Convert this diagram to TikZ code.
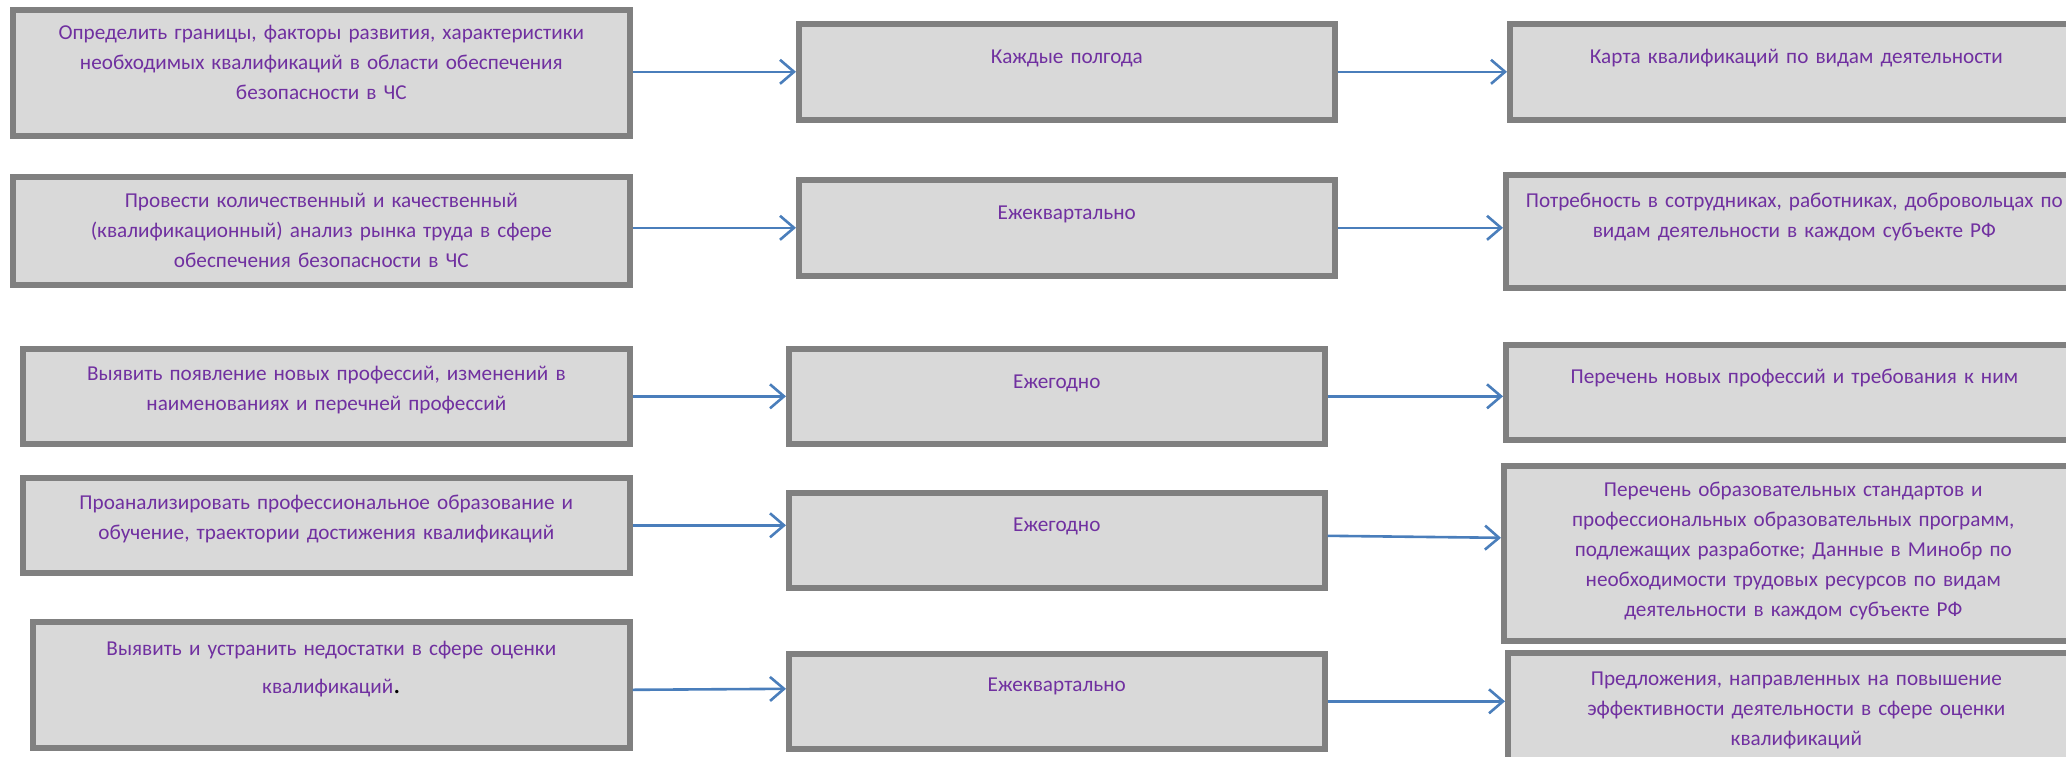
\documentclass[tikz,border=0pt]{standalone}
\usepackage{fontspec}
\setmainfont{Carlito}
\usepackage{xcolor}
\usetikzlibrary{arrows.meta}

\definecolor{boxgray}{HTML}{808080}
\definecolor{boxfill}{HTML}{D9D9D9}
\definecolor{txtpurple}{HTML}{7030A0}
\definecolor{linkblue}{HTML}{4A7EBB}

\begin{document}
\begin{tikzpicture}[
    x=0.5pt, y=-0.5pt,
    cell/.style={draw=boxgray, fill=boxfill, line width=2.8pt,
        anchor=north west, align=center, text=txtpurple,
        inner xsep=2pt, inner ysep=0pt,
        font=\fontsize{10.6pt}{15pt}\selectfont},
    link/.style={-{Straight Barb[length=7pt, width=12pt]}, line width=1.3pt, linkblue},
]

%--- Frame (right column runs past the edge) ---
\useasboundingbox (0,0) rectangle (2066,756);
\clip (0,0) rectangle (2066,756);

%--- Left column: tasks ---
\node[cell, minimum width=308.5pt, text width=290pt, text height=15pt, text depth=48pt]
    (task1) at (10,7)
    {Определить границы, факторы развития, характеристики\\
     необходимых квалификаций в области обеспечения\\
     безопасности в ЧС};
\node[cell, minimum width=308.5pt, text width=290pt, text height=15.5pt, text depth=38.5pt]
    (task2) at (10,174)
    {Провести количественный и качественный\\
     (квалификационный) анализ рынка труда в сфере\\
     обеспечения безопасности в ЧС};
\node[cell, minimum width=303.5pt, text width=290pt, text height=16pt, text depth=31.5pt]
    (task3) at (20,346)
    {Выявить появление новых профессий, изменений в\\
     наименованиях и перечней профессий};
\node[cell, minimum width=303.5pt, text width=290pt, text height=16pt, text depth=31.5pt]
    (task4) at (20,475)
    {Проанализировать профессиональное образование и\\
     обучение, траектории достижения квалификаций};
\node[cell, minimum width=298.5pt, text width=285pt, text height=17pt, text depth=46pt]
    (task5) at (30,619)
    {Выявить и устранить недостатки в сфере оценки\\[4pt]
     квалификаций{\color{black}\fontsize{14pt}{15pt}\selectfont .}};

%--- Middle column: frequency ---
\node[cell, minimum width=268pt, text width=250pt, text height=20pt, text depth=28pt]
    (freq1) at (796,21) {Каждые полгода};
\node[cell, minimum width=268pt, text width=250pt, text height=20pt, text depth=28pt]
    (freq2) at (796,177) {Ежеквартально};
\node[cell, minimum width=268pt, text width=250pt, text height=20pt, text depth=27.5pt]
    (freq3) at (786,346) {Ежегодно};
\node[cell, minimum width=268pt, text width=250pt, text height=19.5pt, text depth=28pt]
    (freq4) at (786,490) {Ежегодно};
\node[cell, minimum width=268pt, text width=250pt, text height=19pt, text depth=28.5pt]
    (freq5) at (786,651) {Ежеквартально};

%--- Right column: results ---
\node[cell, minimum width=286.5pt, text width=280pt, text height=20pt, text depth=28pt]
    (result1) at (1507,21) {Карта квалификаций по видам деятельности};
\node[cell, minimum width=288.5pt, text width=282pt, text height=16.5pt, text depth=40pt]
    (result2) at (1503,172)
    {Потребность в сотрудниках, работниках, добровольцах по\\
     видам деятельности в каждом субъекте РФ};
\node[cell, minimum width=288.5pt, text width=282pt, text height=19.5pt, text depth=28pt]
    (result3) at (1503,342) {Перечень новых профессий и требования к ним};
\node[cell, minimum width=289.5pt, text width=282pt, text height=15.5pt, text depth=72pt]
    (result4) at (1501,463)
    {Перечень образовательных стандартов и\\
     профессиональных образовательных программ,\\
     подлежащих разработке; Данные в Минобр по\\
     необходимости трудовых ресурсов по видам\\
     деятельности в каждом субъекте РФ};
\node[cell, minimum width=288.5pt, text width=282pt, text height=16.5pt, text depth=45pt]
    (result5) at (1505,650)
    {Предложения, направленных на повышение\\
     эффективности деятельности в сфере оценки\\
     квалификаций};

%--- Arrows: task -> frequency ---
\draw[link] (task1.east |- freq1.west) -- (freq1.west);
\draw[link] (task2.east |- freq2.west) -- (freq2.west);
\draw[link] (task3.east) -- (freq3.west);
\draw[link] (task4.east) -- (task4.east -| freq4.west);
\draw[link] ([yshift=-2.5pt]task5.east) -- ([yshift=6.25pt]freq5.west);

%--- Arrows: frequency -> result ---
\draw[link] (freq1.east) -- (freq1.east -| result1.west);
\draw[link] (freq2.east) -- (freq2.east -| result2.west);
\draw[link] (freq3.east) -- (freq3.east -| result3.west);
\draw[link] ([yshift=2.25pt]freq4.east) -- ([yshift=7.75pt]result4.west);
\draw[link] (freq5.east) -- (freq5.east -| result5.west);

\end{tikzpicture}
\end{document}
